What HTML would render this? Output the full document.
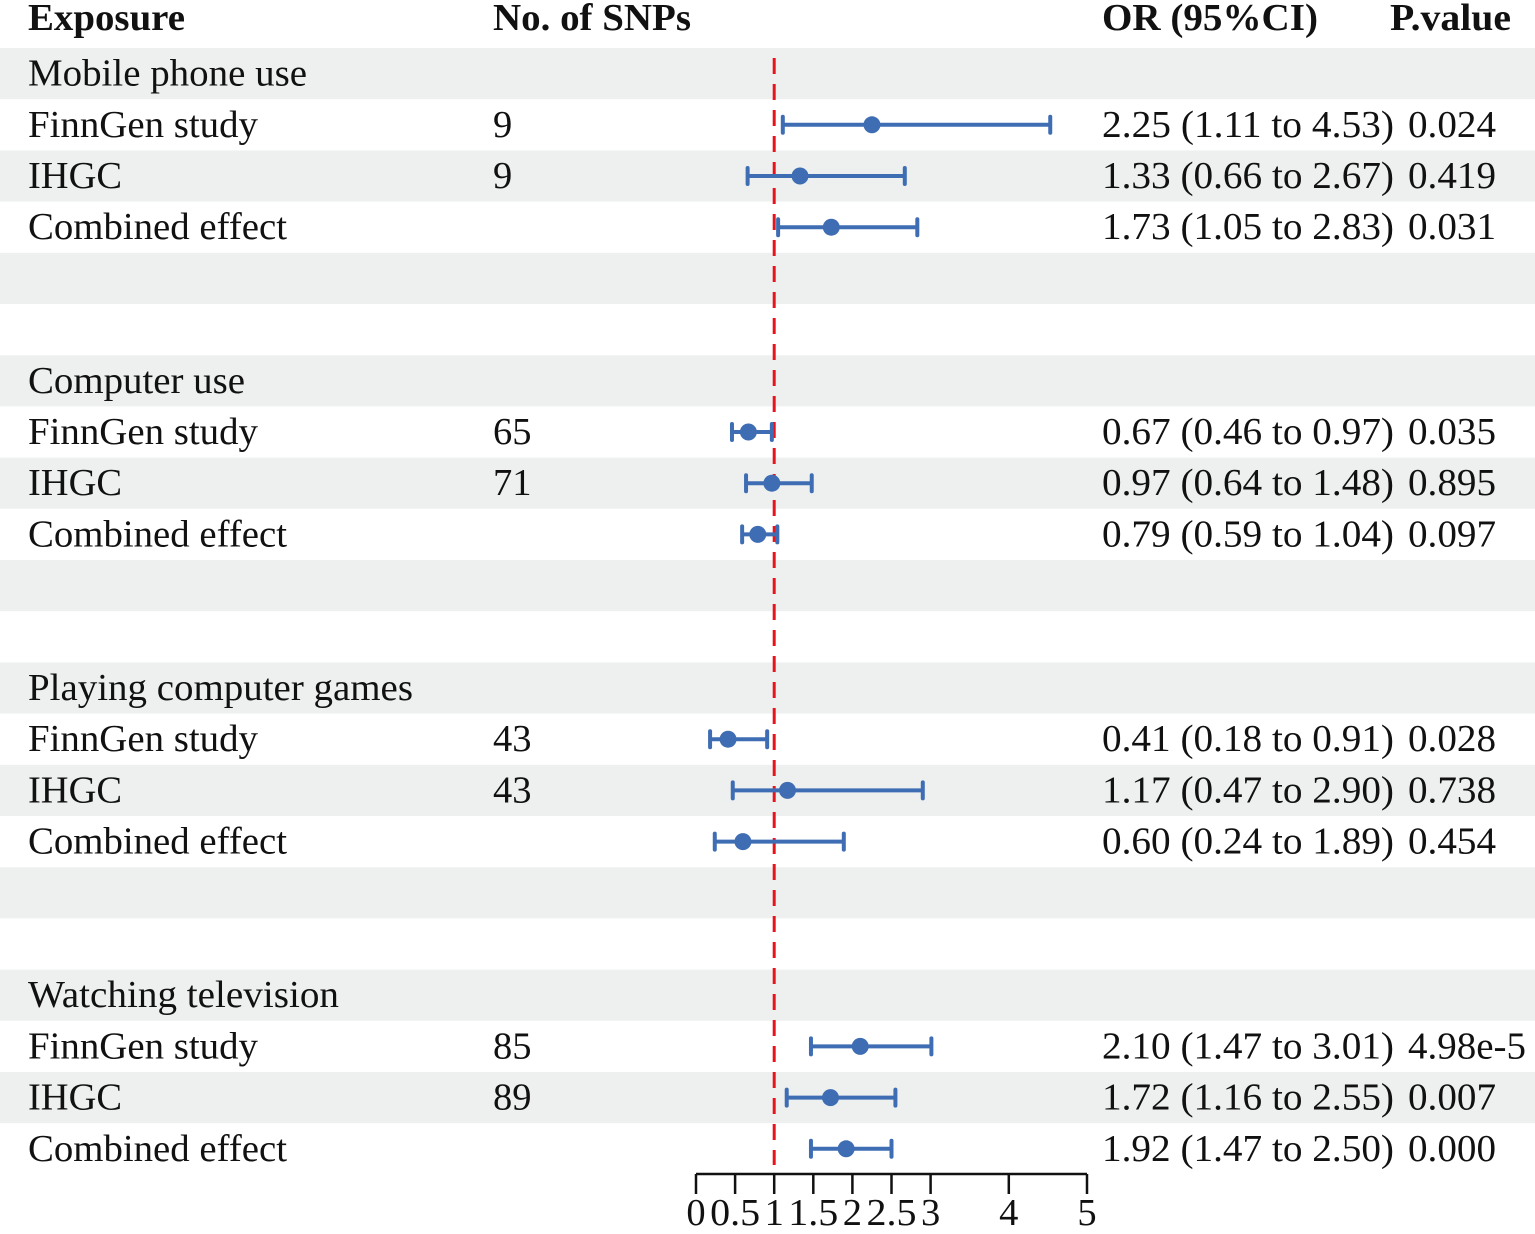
<!DOCTYPE html>
<html><head><meta charset="utf-8"><style>
body{margin:0;background:#fff;}
svg text{font-family:"Liberation Serif",serif;font-size:38.5px;fill:#111;}
</style></head><body>
<svg id="c" width="1535" height="1229"></svg>
<script>
const labels=["Mobile phone use","FinnGen study","IHGC","Combined effect","","","Computer use","FinnGen study","IHGC","Combined effect","","","Playing computer games","FinnGen study","IHGC","Combined effect","","","Watching television","FinnGen study","IHGC","Combined effect"];
const snps=["","9","9","","","","","65","71","","","","","43","43","","","","","85","89",""];
const est=[null,2.25,1.33,1.73,null,null,null,0.67,0.97,0.79,null,null,null,0.41,1.17,0.60,null,null,null,2.10,1.72,1.92];
const lo=[null,1.11,0.66,1.05,null,null,null,0.46,0.64,0.59,null,null,null,0.18,0.47,0.24,null,null,null,1.47,1.16,1.47];
const hi=[null,4.53,2.67,2.83,null,null,null,0.97,1.48,1.04,null,null,null,0.91,2.90,1.89,null,null,null,3.01,2.55,2.50];
const pvals=["","0.024","0.419","0.031","","","","0.035","0.895","0.097","","","","0.028","0.738","0.454","","","","4.98e-5","0.007","0.000"];
const ticks=[0,0.5,1,1.5,2,2.5,3,4,5];
const tickLabels=["0","0.5","1","1.5","2","2.5","3","4","5"];
const svg=document.getElementById('c');const NS="http://www.w3.org/2000/svg";
function el(t,a,txt){const e=document.createElementNS(NS,t);for(const k in a)e.setAttribute(k,a[k]);if(txt!==undefined)e.textContent=txt;svg.appendChild(e);return e;}
function fit(e,w){e.setAttribute('textLength',w);e.setAttribute('lengthAdjust','spacingAndGlyphs');}
const x=v=>696+v*78.2;
const rowTop=i=>48+i*51.2;
const rowC=i=>rowTop(i)+25.6;
for(let i=0;i<labels.length;i+=2){const r=el('rect',{x:0,y:rowTop(i),width:1535,height:51.2,fill:'#eef0f0'});

}
const hdr=[["Exposure",28,157],["No. of SNPs",493,198],["OR (95%CI)",1102,216],["P.value",1390,121]];
hdr.forEach(h=>{const t=el('text',{x:h[1],y:30,'font-weight':'bold','font-size':37},h[0]);fit(t,h[2]);

});
const dl=el('line',{x1:x(1),x2:x(1),y1:58,y2:1165,stroke:'#e8141b','stroke-width':3,'stroke-dasharray':'16 10'});


const fits={"Combined effect":259,"Mobile phone use":279,"Playing computer games":385,"Watching television":311,"FinnGen study":230,"Computer use":217,"IHGC":94};
labels.forEach((l,i)=>{const y=rowC(i)+12;
if(l){const t=el('text',{x:28,y:y},l);
if(fits[l])fit(t,fits[l]);}
if(snps[i]){const t=el('text',{x:493,y:y},snps[i]);}
if(est[i]!==null){
const c='#3e6db3',yc=rowC(i);
const ln=el('line',{x1:x(lo[i]),x2:x(hi[i]),y1:yc,y2:yc,stroke:c,'stroke-width':4});

[lo[i],hi[i]].forEach(v=>{const cp=el('line',{x1:x(v),x2:x(v),y1:yc-8,y2:yc+8,stroke:c,'stroke-width':4,'stroke-linecap':'round'});
});
const pt=el('circle',{cx:x(est[i]),cy:yc,r:8.5,fill:c});

const t=el('text',{x:1102,y:y},est[i].toFixed(2)+" ("+lo[i].toFixed(2)+" to "+hi[i].toFixed(2)+")");fit(t,292);

const p=el('text',{x:1408,y:y},pvals[i]);fit(p,pvals[i].length>5?118:88);
}
});
const ax=el('line',{x1:x(0),x2:x(5),y1:1174,y2:1174,stroke:'#111','stroke-width':2.5});

ticks.forEach((v,k)=>{const tk=el('line',{x1:x(v),x2:x(v),y1:1174,y2:1194,stroke:'#111','stroke-width':2.5});

const t=el('text',{x:x(v),y:1225,'text-anchor':'middle','font-size':42},tickLabels[k]);
if(tickLabels[k].length>1)fit(t,50);
});
</script>
</body></html>
